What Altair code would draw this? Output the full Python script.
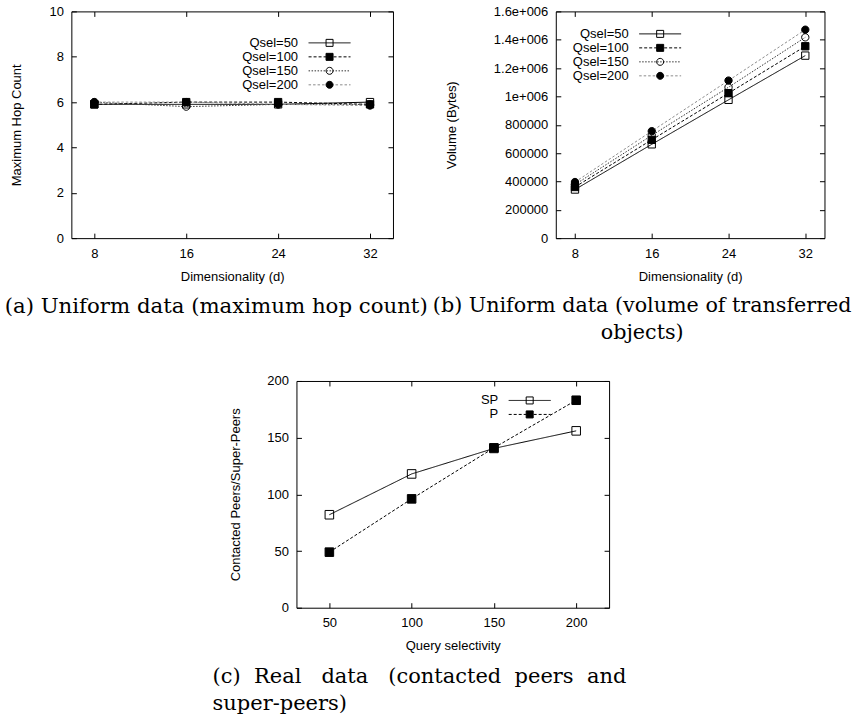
import altair as alt
import pandas as pd

# ---------------- data ----------------
dims = [8, 16, 24, 32]
qsel_names = ["Qsel=50", "Qsel=100", "Qsel=150", "Qsel=200"]

hop_50 = [5.9, 5.9, 5.9, 6.0]
hop_100 = [5.9, 6.0, 6.0, 5.9]
hop_150 = [6.0, 5.8, 5.9, 5.9]
hop_200 = [6.0, 6.0, 5.9, 5.85]

vol_50 = [343000, 662000, 976000, 1288000]
vol_100 = [361000, 694000, 1023000, 1354000]
vol_150 = [378000, 725000, 1065000, 1417000]
vol_200 = [396000, 755000, 1112000, 1471000]

selectivity = [50, 100, 150, 200]
real_names = ["SP", "P"]
sp_vals = [82, 118, 140.5, 156]
p_vals = [49, 96, 141, 183]

hop_ticks = [0, 2, 4, 6, 8, 10]
vol_ticks = [0, 200000, 400000, 600000, 800000, 1000000, 1200000, 1400000, 1600000]
real_ticks = [0, 50, 100, 150, 200]

SANS = "Liberation Sans"
SERIF = "DejaVu Serif"

SQ = "M-0.7,-0.7H0.7V0.7H-0.7Z"
CI = "M0.7,0A0.7,0.7 0 1,1 -0.7,0A0.7,0.7 0 1,1 0.7,0Z"
LINE_SYM = "M-4.2,0H4.2"


def long_df(xs, names, series):
    rows = []
    for name, vals in zip(names, series):
        for xv, yv in zip(xs, vals):
            rows.append({"x": xv, "y": yv, "s": name, "l": name})
    return pd.DataFrame(rows)


def js_list(items):
    return "[" + ",".join("'" + str(v) + "'" for v in items) + "]"


def panel(df, names, xdom, xvals, ydom, yvals, W, H, xtitle, ytitle,
          strokes, dashes, shapes, fills, msize, legx, legy,
          caption, cap_anchor, cap_dx, cap_offset, cap_size,
          ylabel_expr=None, ytitle_pad=24):
    xs = alt.Scale(domain=xdom, nice=False, zero=False)
    ys = alt.Scale(domain=ydom, nice=False, zero=False)

    ykw = dict(orient="left", values=yvals, ticks=False, domain=True,
               labelPadding=8, title=ytitle, titlePadding=ytitle_pad, grid=False)
    if ylabel_expr:
        ykw["labelExpr"] = ylabel_expr
    main_x = alt.Axis(orient="bottom", values=xvals, ticks=False, domain=True,
                      labelPadding=9, title=xtitle, titlePadding=10, grid=False)
    main_y = alt.Axis(**ykw)

    leg_common = dict(orient="none", legendX=legx, legendY=legy, title=None,
                      symbolSize=100, labelAlign="right", labelOffset={"expr": "-38"},
                      labelFont=SANS, labelFontSize=13, labelFontWeight="normal",
                      rowPadding=0, padding=0, symbolStrokeWidth=1)
    line_leg = alt.Legend(symbolType=LINE_SYM, labelColor="black", **leg_common)
    fill_sig = js_list(fills) + "[indexof(" + js_list(names) + ", datum.value)]"
    mark_leg = alt.Legend(labelColor="transparent", symbolStrokeColor="black",
                          symbolFillColor={"expr": fill_sig}, **leg_common)

    base = alt.Chart(df)
    lines = base.mark_line(strokeWidth=1).encode(
        x=alt.X("x:Q", scale=xs, axis=main_x),
        y=alt.Y("y:Q", scale=ys, axis=main_y),
        stroke=alt.Stroke("l:N", scale=alt.Scale(domain=names, range=strokes), legend=line_leg),
        strokeDash=alt.StrokeDash("l:N", scale=alt.Scale(domain=names, range=dashes), legend=line_leg),
    )
    points = base.mark_point(size=msize, stroke="black", strokeWidth=1, opacity=1).encode(
        x=alt.X("x:Q", scale=xs, axis=None),
        y=alt.Y("y:Q", scale=ys, axis=None),
        shape=alt.Shape("s:N", sort=names, scale=alt.Scale(range=shapes), legend=mark_leg),
        fill=alt.Fill("s:N", sort=names, scale=alt.Scale(range=fills), legend=None),
    )
    # inward ticks on bottom / left
    t1 = base.mark_point(opacity=0).encode(
        x=alt.X("x:Q", scale=xs, axis=alt.Axis(orient="top", offset=-H, values=xvals, labels=False,
                                                domain=False, ticks=True, title=None, grid=False)),
        y=alt.Y("y:Q", scale=ys, axis=alt.Axis(orient="right", offset=-W, values=yvals, labels=False,
                                                domain=False, ticks=True, title=None, grid=False)),
    )
    # top / right border with inward ticks
    t2 = base.mark_point(opacity=0).encode(
        x=alt.X("x:Q", scale=xs, axis=alt.Axis(orient="bottom", offset=-H, values=xvals, labels=False,
                                                domain=True, ticks=True, title=None, grid=False)),
        y=alt.Y("y:Q", scale=ys, axis=alt.Axis(orient="left", offset=-W, values=yvals, labels=False,
                                                domain=True, ticks=True, title=None, grid=False)),
    )
    title = alt.TitleParams(text=caption, orient="bottom", anchor=cap_anchor, frame="group",
                            dx=cap_dx, offset=cap_offset, font=SERIF, fontSize=cap_size,
                            fontWeight="normal", color="black", lineHeight=27,
                            align="left" if cap_anchor == "start" else "center")
    return alt.layer(lines, points, t1, t2).resolve_axis(
        x="independent", y="independent").properties(width=W, height=H, title=title)


df_hop = long_df(dims, qsel_names, [hop_50, hop_100, hop_150, hop_200])
df_vol = long_df(dims, qsel_names, [vol_50, vol_100, vol_150, vol_200])
df_real = long_df(selectivity, real_names, [sp_vals, p_vals])

q_strokes = ["black", "black", "#333333", "#8c8c8c"]
q_dashes = [[1, 0], [3, 2], [1.5, 1.5], [2.5, 2]]
q_shapes = [SQ, SQ, CI, CI]
q_fills = ["transparent", "black", "transparent", "black"]

pa = panel(df_hop, qsel_names, [6, 34], dims, [0, 10], hop_ticks, 322, 227,
           "Dimensionality (d)", "Maximum Hop Count",
           q_strokes, q_dashes, q_shapes, q_fills, 110, 252, 25,
           ["(a) Uniform data (maximum hop count)"], "middle", -16, 13, 21.3,
           ytitle_pad=25)

vol_expr = ("datum.value < 1000000 ? format(datum.value, 'd') : "
            "format(datum.value / 1000000, '.1~f') + 'e+006'")
pb = panel(df_vol, qsel_names, [6, 34], dims, [0, 1600000], vol_ticks, 269, 227,
           "Dimensionality (d)", "Volume (Bytes)",
           q_strokes, q_dashes, q_shapes, q_fills, 110, 98, 16,
           ["(b) Uniform data (volume of transferred", "objects)"], "middle", -48, 13, 20.7,
           ylabel_expr=vol_expr, ytitle_pad=35)

NB = "\u00a0"
cap_c = ["(c)" + NB + " Real" + NB * 2 + " data" + NB * 2 + " (contacted" + NB +
         " peers" + NB + " and", "super-peers)"]
pc = panel(df_real, real_names, [30, 220], selectivity, [0, 200], real_ticks, 313, 227,
           "Query selectivity", "Contacted Peers/Super-Peers",
           ["black", "black"], [[1, 0], [3, 2]], [SQ, SQ], ["transparent", "black"], 150, 227, 13,
           cap_c, "start", -84, 13, 21)

indep = dict(stroke="independent", strokeDash="independent",
             shape="independent", fill="independent")

top = alt.hconcat(pa, pb, spacing=163, bounds="flush").resolve_scale(**indep).resolve_legend(**indep)

chart = alt.vconcat(top, pc, spacing=32, center=True).resolve_scale(**indep).resolve_legend(
    **indep).properties(
    padding={"left": 4, "top": 5, "right": 0, "bottom": 0}
).configure_view(stroke=None).configure_axis(
    labelFont=SANS, labelFontSize=13, labelColor="black",
    titleFont=SANS, titleFontSize=13, titleFontWeight="normal", titleColor="black",
    domainColor="black", tickColor="black", tickSize=5, domainWidth=1, tickWidth=1,
).configure_legend(labelFont=SANS)

chart.save("out.html", embed_options={"renderer": "svg", "actions": False})
